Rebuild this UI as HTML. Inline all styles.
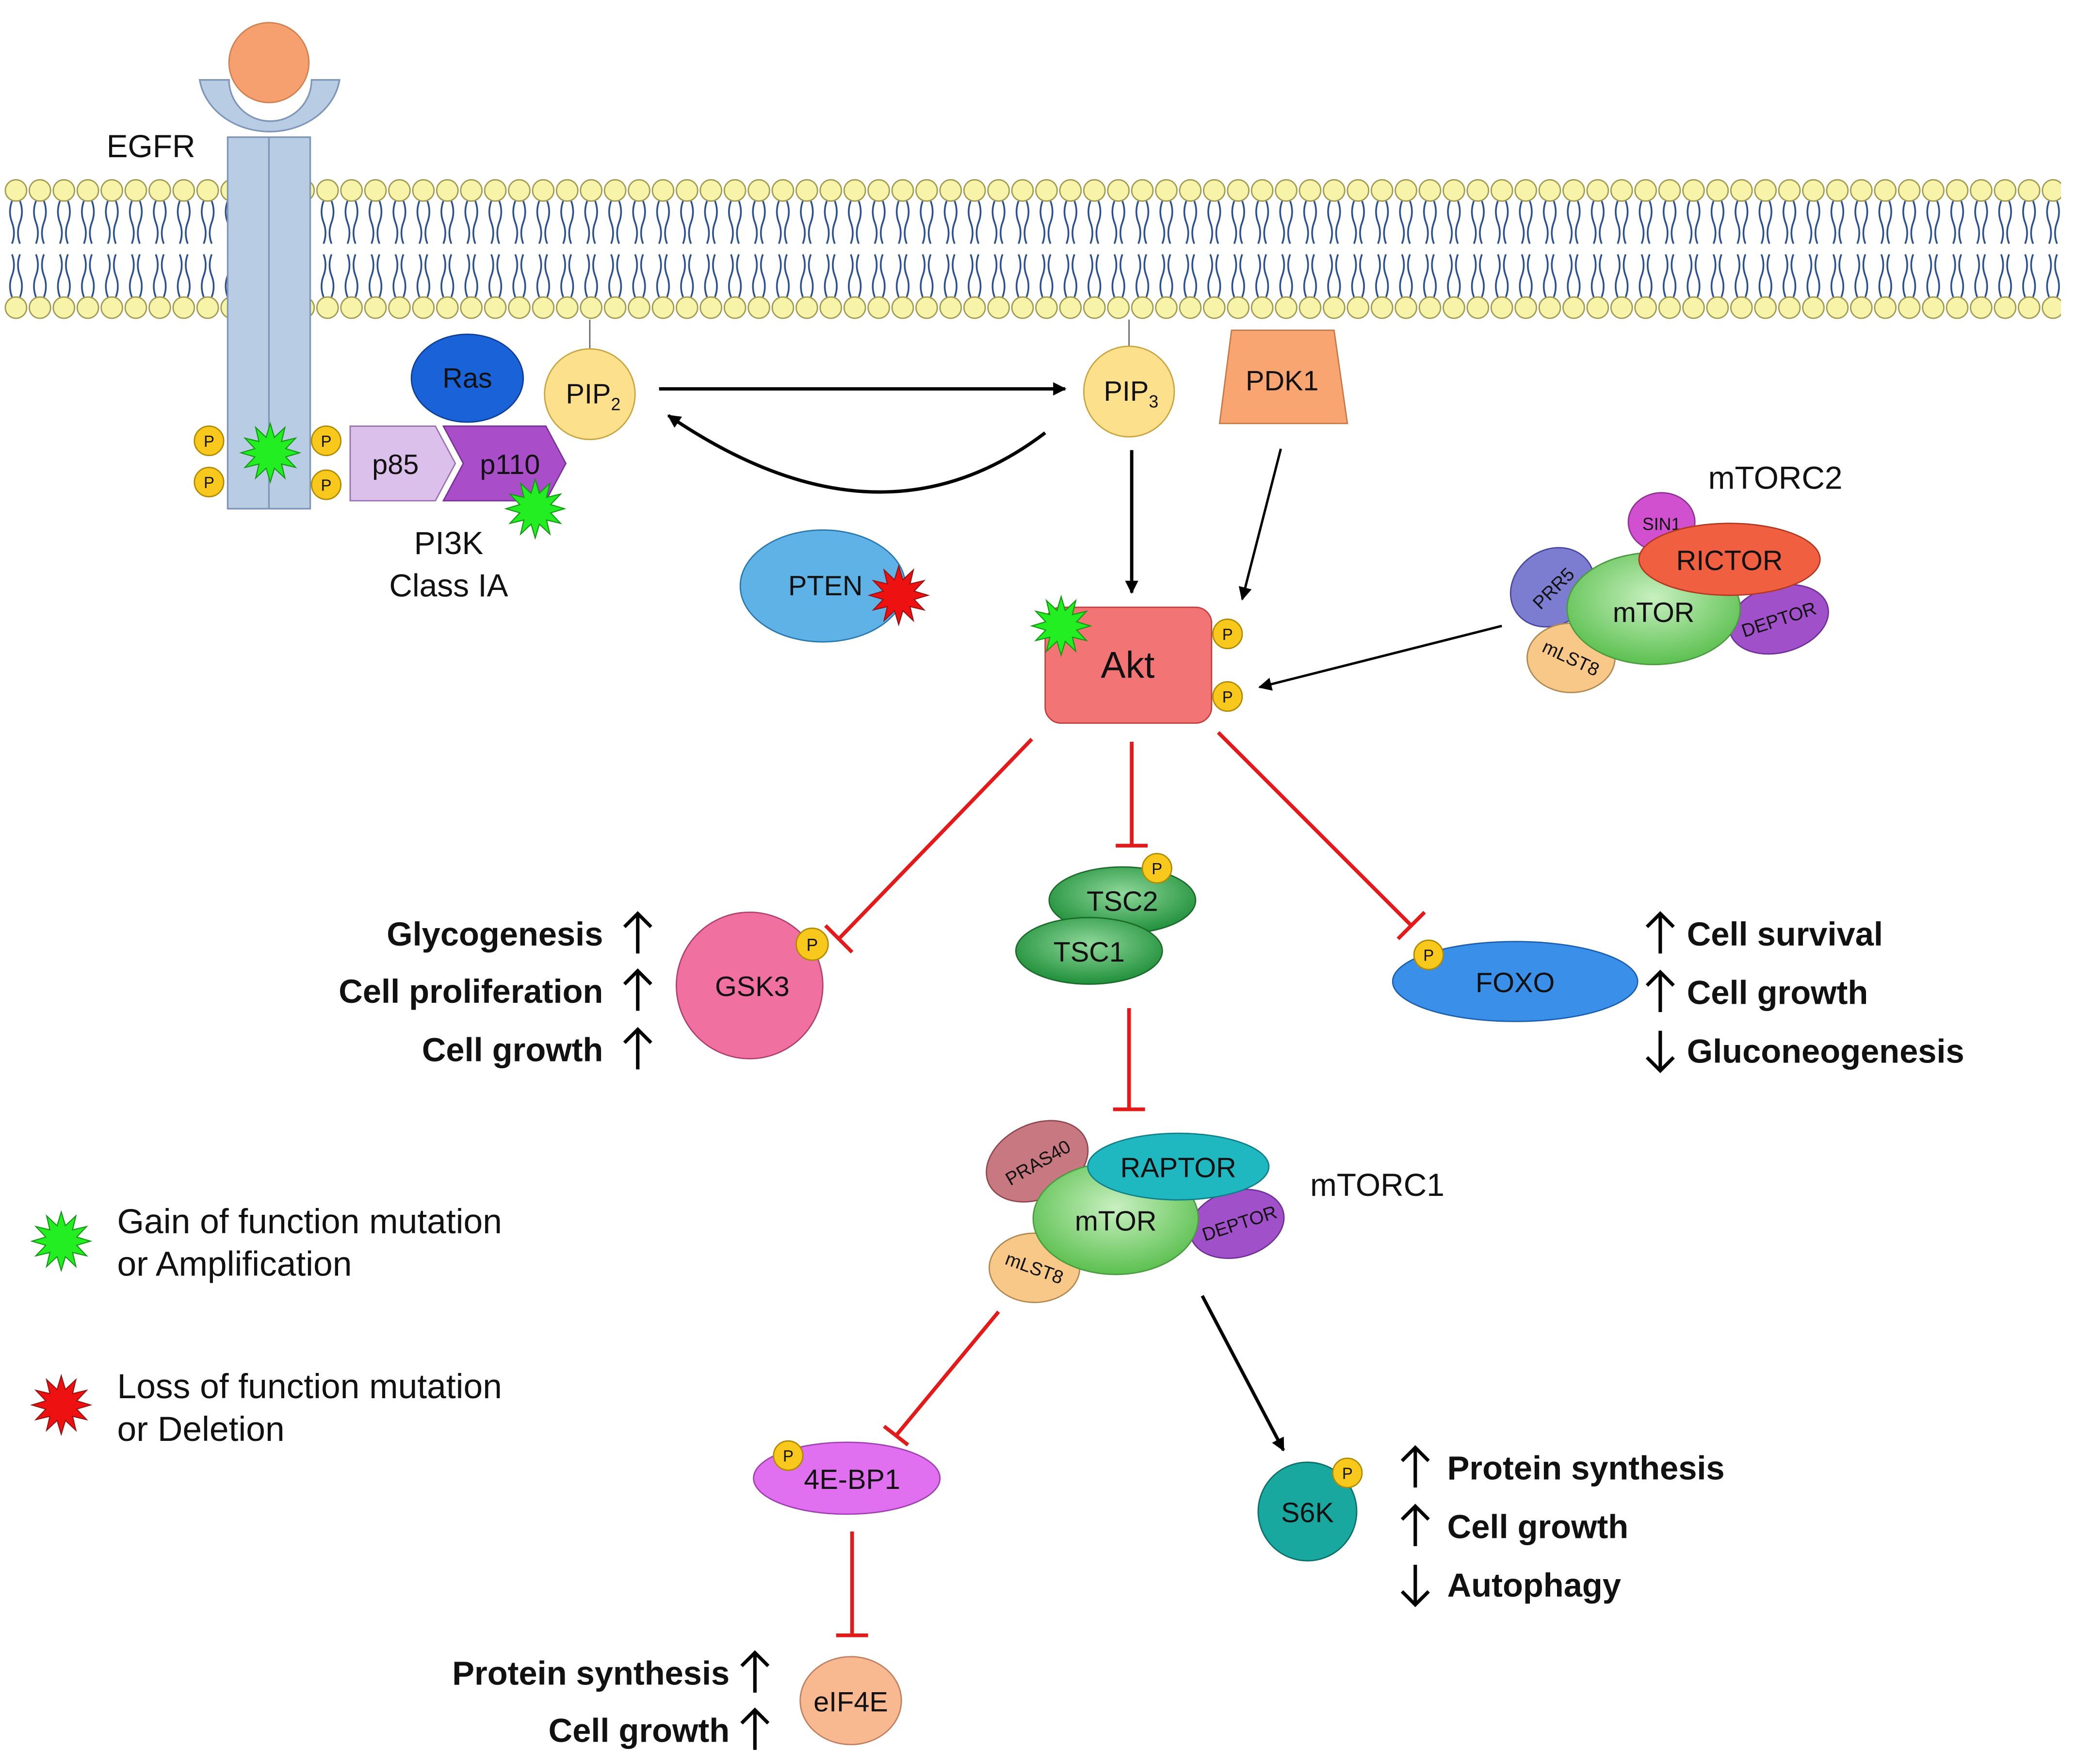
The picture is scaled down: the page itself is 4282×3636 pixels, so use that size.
<!DOCTYPE html>
<html><head><meta charset="utf-8"><style>
html,body{margin:0;padding:0;background:#fff}
svg{display:block}
text{font-family:"Liberation Sans",Arial,sans-serif;fill:#111}
.b{font-weight:bold;font-size:25px}
.l{font-size:21px}
</style></head><body>
<svg width="4282" height="3636" viewBox="0 0 1560 1324.6" preserveAspectRatio="none" xmlns="http://www.w3.org/2000/svg">
<defs>
<pattern id="mem" x="3" y="133" width="18" height="108" patternUnits="userSpaceOnUse">
<path d="M6,18 q-3,8 0,16 q3,8 0,16 M12,18 q3,8 0,16 q-3,8 0,16 M6,90 q-3,-8 0,-16 q3,-8 0,-16 M12,90 q3,-8 0,-16 q-3,-8 0,-16" stroke="#2a4f8f" stroke-width="1.3" fill="none"/>
<circle cx="9" cy="10" r="8" fill="#f7f3a8" stroke="#a09a50" stroke-width="1"/>
<circle cx="9" cy="98" r="8" fill="#f7f3a8" stroke="#a09a50" stroke-width="1"/>
</pattern>
<polygon id="star" points="22,0 11.59,3.11 19.05,11 8.49,8.49 11,19.05 3.11,11.59 0,22 -3.11,11.59 -11,19.05 -8.49,8.49 -19.05,11 -11.59,3.11 -22,0 -11.59,-3.11 -19.05,-11 -8.49,-8.49 -11,-19.05 -3.11,-11.59 0,-22 3.11,-11.59 11,-19.05 8.49,-8.49 19.05,-11 11.59,-3.11"/>
<marker id="ar" markerWidth="10" markerHeight="10" refX="9" refY="5" orient="auto" markerUnits="userSpaceOnUse" viewBox="0 0 10 10"><path d="M0,0 L10,5 L0,10 z" fill="#000"/></marker>
<radialGradient id="gg" cx="50%" cy="40%" r="60%"><stop offset="0" stop-color="#c8f0c0"/><stop offset="1" stop-color="#5cc050"/></radialGradient>
<radialGradient id="dg" cx="50%" cy="40%" r="60%"><stop offset="0" stop-color="#8fd89a"/><stop offset="1" stop-color="#1f8f3a"/></radialGradient>
</defs>
<rect x="0" y="0" width="1560" height="1325" fill="#fff"/>
<rect x="3" y="133" width="1545" height="108" fill="url(#mem)"/>
<!-- EGFR -->
<rect x="171" y="103" width="62" height="279" fill="#b8cce4" stroke="#7f96b8" stroke-width="1.2"/>
<line x1="202" y1="103" x2="202" y2="382" stroke="#7f96b8" stroke-width="1.2"/>
<path d="M150,60 L172,60 A31,31 0 0 0 234,60 L255,60 A53,45 0 0 1 150,60 z" fill="#b8cce4" stroke="#7f96b8" stroke-width="1.2"/>
<circle cx="202" cy="47" r="30" fill="#f6a070" stroke="#d08050"/>
<text x="80" y="118" font-size="24">EGFR</text>
<use href="#star" x="203" y="340" fill="#22ee22" stroke="#119911" stroke-width="0.8"/>
<g font-size="12">
<circle cx="157" cy="331" r="11" fill="#f8c81c" stroke="#b08a00"/><text x="157" y="335.5" text-anchor="middle" font-size="12">P</text>
<circle cx="157" cy="362" r="11" fill="#f8c81c" stroke="#b08a00"/><text x="157" y="366.5" text-anchor="middle" font-size="12">P</text>
<circle cx="245" cy="331" r="11" fill="#f8c81c" stroke="#b08a00"/><text x="245" y="335.5" text-anchor="middle" font-size="12">P</text>
<circle cx="245" cy="364" r="11" fill="#f8c81c" stroke="#b08a00"/><text x="245" y="368.5" text-anchor="middle" font-size="12">P</text>
</g>
<!-- PI3K -->
<polygon points="263,320 327,320 342,348 327,376 263,376" fill="#dcc0ec" stroke="#9a70b0"/>
<polygon points="333,320 410,320 425,348 410,376 333,376 348,348" fill="#a94ec8" stroke="#7a3098"/>
<text x="297" y="356" text-anchor="middle" class="l">p85</text>
<text x="383" y="356" text-anchor="middle" class="l">p110</text>
<use href="#star" x="402" y="382" fill="#22ee22" stroke="#119911" stroke-width="0.8"/>
<text x="337" y="416" text-anchor="middle" font-size="24">PI3K</text>
<text x="337" y="448" text-anchor="middle" font-size="24">Class IA</text>
<ellipse cx="351" cy="284" rx="42" ry="33" fill="#1a62d8" stroke="#0d3f99"/>
<text x="351" y="291" text-anchor="middle" class="l">Ras</text>
<!-- PIP -->
<line x1="443" y1="240" x2="443" y2="262" stroke="#666"/>
<circle cx="443" cy="296" r="34" fill="#fde08c" stroke="#c9a440"/>
<text x="425" y="303" class="l">PIP<tspan font-size="13" dy="5">2</tspan></text>
<line x1="848" y1="240" x2="848" y2="260" stroke="#666"/>
<circle cx="848" cy="294" r="34" fill="#fde08c" stroke="#c9a440"/>
<text x="829" y="301" class="l">PIP<tspan font-size="13" dy="5">3</tspan></text>
<polygon points="925,248 1002,248 1012,318 916,318" fill="#f8a572" stroke="#c87848"/>
<text x="963" y="293" text-anchor="middle" class="l">PDK1</text>
<line x1="495" y1="292" x2="800" y2="292" stroke="#000" stroke-width="2.5" marker-end="url(#ar)"/>
<path d="M785,325 Q660,420 502,312" stroke="#000" stroke-width="2.5" fill="none" marker-end="url(#ar)"/>
<ellipse cx="618" cy="440" rx="62" ry="42" fill="#5fb2e6" stroke="#2a78b0"/>
<text x="620" y="447" text-anchor="middle" class="l">PTEN</text>
<use href="#star" x="675" y="447" fill="#ee1111" stroke="#991111" stroke-width="0.8"/>
<line x1="850" y1="338" x2="850" y2="445" stroke="#000" stroke-width="2.5" marker-end="url(#ar)"/>
<line x1="962" y1="337" x2="933" y2="450" stroke="#000" stroke-width="1.8" marker-end="url(#ar)"/>
<!-- Akt -->
<rect x="785" y="456" width="125" height="87" rx="12" fill="#f27474" stroke="#c04040"/>
<text x="847" y="509" text-anchor="middle" font-size="28">Akt</text>
<use href="#star" x="797" y="470" fill="#22ee22" stroke="#119911" stroke-width="0.8"/>
<circle cx="922" cy="476" r="11" fill="#f8c81c" stroke="#b08a00"/><text x="922" y="480.5" text-anchor="middle" font-size="12">P</text>
<circle cx="922" cy="523" r="11" fill="#f8c81c" stroke="#b08a00"/><text x="922" y="527.5" text-anchor="middle" font-size="12">P</text>
<!-- mTORC2 -->
<ellipse cx="1166" cy="441" rx="33" ry="28" fill="#7c7cd0" stroke="#4848a0" transform="rotate(-35 1166 441)"/>
<text x="1166" y="447" text-anchor="middle" font-size="14" transform="rotate(-45 1166 441)">PRR5</text>
<ellipse cx="1248" cy="392" rx="25" ry="22" fill="#d050d0" stroke="#903090"/>
<text x="1248" y="398" text-anchor="middle" font-size="13">SIN1</text>
<ellipse cx="1180" cy="494" rx="33" ry="26" fill="#f8c888" stroke="#b08850"/>
<text x="1180" y="499" text-anchor="middle" font-size="14" transform="rotate(25 1180 494)">mLST8</text>
<ellipse cx="1336" cy="465" rx="38" ry="25" fill="#a050c8" stroke="#703098" transform="rotate(-15 1336 465)"/>
<text x="1336" y="470" text-anchor="middle" font-size="14" transform="rotate(-18 1336 465)">DEPTOR</text>
<ellipse cx="1242" cy="457" rx="65" ry="42" fill="url(#gg)" stroke="#4a9a40"/>
<text x="1242" y="467" text-anchor="middle" class="l">mTOR</text>
<ellipse cx="1299" cy="420" rx="68" ry="27" fill="#f06040" stroke="#b03820"/>
<text x="1299" y="428" text-anchor="middle" class="l">RICTOR</text>
<text x="1283" y="367" font-size="24">mTORC2</text>
<line x1="1128" y1="470" x2="946" y2="516" stroke="#000" stroke-width="1.8" marker-end="url(#ar)"/>
<!-- inhibitions -->
<g stroke="#e41a1a" stroke-width="2.8">
<line x1="775" y1="555" x2="630" y2="705"/><line x1="620" y1="695" x2="640" y2="715"/>
<line x1="850" y1="557" x2="850" y2="635"/><line x1="838" y1="635" x2="862" y2="635"/>
<line x1="915" y1="550" x2="1060" y2="695"/><line x1="1050" y1="705" x2="1070" y2="685"/>
<line x1="848" y1="757" x2="848" y2="833"/><line x1="836" y1="833" x2="860" y2="833"/>
<line x1="750" y1="985" x2="673" y2="1078"/><line x1="664" y1="1071" x2="682" y2="1085"/>
<line x1="640" y1="1150" x2="640" y2="1228"/><line x1="628" y1="1228" x2="652" y2="1228"/>
</g>
<!-- GSK3 -->
<circle cx="563" cy="740" r="55" fill="#f070a0" stroke="#b04070"/>
<text x="565" y="748" text-anchor="middle" class="l">GSK3</text>
<circle cx="610" cy="709" r="12" fill="#f8c81c" stroke="#b08a00"/><text x="610" y="714" text-anchor="middle" font-size="13">P</text>
<!-- TSC -->
<ellipse cx="843" cy="676" rx="55" ry="25" fill="url(#dg)" stroke="#1a6a2a"/>
<text x="843" y="684" text-anchor="middle" class="l">TSC2</text>
<ellipse cx="818" cy="714" rx="55" ry="25" fill="url(#dg)" stroke="#1a6a2a"/>
<text x="818" y="722" text-anchor="middle" class="l">TSC1</text>
<circle cx="869" cy="652" r="11" fill="#f8c81c" stroke="#b08a00"/><text x="869" y="656.5" text-anchor="middle" font-size="12">P</text>
<!-- FOXO -->
<ellipse cx="1138" cy="737" rx="92" ry="30" fill="#3a90e8" stroke="#1a5fb0"/>
<text x="1138" y="745" text-anchor="middle" class="l">FOXO</text>
<circle cx="1073" cy="717" r="11" fill="#f8c81c" stroke="#b08a00"/><text x="1073" y="721.5" text-anchor="middle" font-size="12">P</text>
<!-- side texts -->
<g class="b">
<text x="453" y="710" text-anchor="end" class="b">Glycogenesis</text>
<text x="453" y="753" text-anchor="end" class="b">Cell proliferation</text>
<text x="453" y="797" text-anchor="end" class="b">Cell growth</text>
<text x="1267" y="710" class="b">Cell survival</text>
<text x="1267" y="754" class="b">Cell growth</text>
<text x="1267" y="798" class="b">Gluconeogenesis</text>
<text x="1087" y="1111" class="b">Protein synthesis</text>
<text x="1087" y="1155" class="b">Cell growth</text>
<text x="1087" y="1199" class="b">Autophagy</text>
<text x="548" y="1265" text-anchor="end" class="b">Protein synthesis</text>
<text x="548" y="1308" text-anchor="end" class="b">Cell growth</text>
</g>
<g stroke="#000" stroke-width="2.6" fill="none">
<path d="M479,716 V686 M469,696 L479,686 L489,696"/>
<path d="M479,759 V729 M469,739 L479,729 L489,739"/>
<path d="M479,803 V773 M469,783 L479,773 L489,783"/>
<path d="M1247,716 V686 M1237,696 L1247,686 L1257,696"/>
<path d="M1247,760 V730 M1237,740 L1247,730 L1257,740"/>
<path d="M1247,774 V804 M1237,794 L1247,804 L1257,794"/>
<path d="M1063,1117 V1087 M1053,1097 L1063,1087 L1073,1097"/>
<path d="M1063,1161 V1131 M1053,1141 L1063,1131 L1073,1141"/>
<path d="M1063,1175 V1205 M1053,1195 L1063,1205 L1073,1195"/>
<path d="M567,1271 V1241 M557,1251 L567,1241 L577,1251"/>
<path d="M567,1314 V1284 M557,1294 L567,1284 L577,1294"/>
</g>
<!-- mTORC1 -->
<ellipse cx="779" cy="872" rx="40" ry="28" fill="#c87880" stroke="#904850" transform="rotate(-25 779 872)"/>
<text x="779" y="878" text-anchor="middle" font-size="14" transform="rotate(-30 779 872)">PRAS40</text>
<ellipse cx="929" cy="919" rx="36" ry="25" fill="#a050c8" stroke="#703098" transform="rotate(-15 929 919)"/>
<text x="931" y="924" text-anchor="middle" font-size="14" transform="rotate(-18 929 919)">DEPTOR</text>
<ellipse cx="777" cy="952" rx="34" ry="26" fill="#f8c888" stroke="#b08850"/>
<text x="777" y="957" text-anchor="middle" font-size="14" transform="rotate(20 777 952)">mLST8</text>
<ellipse cx="838" cy="915" rx="62" ry="42" fill="url(#gg)" stroke="#4a9a40"/>
<text x="838" y="924" text-anchor="middle" class="l">mTOR</text>
<ellipse cx="885" cy="876" rx="68" ry="25" fill="#20b8c0" stroke="#108088"/>
<text x="885" y="884" text-anchor="middle" class="l">RAPTOR</text>
<text x="984" y="898" font-size="24">mTORC1</text>
<line x1="903" y1="973" x2="964" y2="1089" stroke="#000" stroke-width="2.5" marker-end="url(#ar)"/>
<!-- 4E-BP1 -->
<ellipse cx="636" cy="1110" rx="70" ry="27" fill="#e070f0" stroke="#a040b0"/>
<text x="640" y="1118" text-anchor="middle" class="l">4E-BP1</text>
<circle cx="592" cy="1093" r="11" fill="#f8c81c" stroke="#b08a00"/><text x="592" y="1097.5" text-anchor="middle" font-size="12">P</text>
<circle cx="982" cy="1135" r="37" fill="#18a8a0" stroke="#0a7068"/>
<text x="982" y="1143" text-anchor="middle" class="l">S6K</text>
<circle cx="1012" cy="1106" r="11" fill="#f8c81c" stroke="#b08a00"/><text x="1012" y="1110.5" text-anchor="middle" font-size="12">P</text>
<ellipse cx="639" cy="1277" rx="38" ry="33" fill="#f8b890" stroke="#c08060"/>
<text x="639" y="1285" text-anchor="middle" class="l">eIF4E</text>
<!-- legend -->
<use href="#star" x="46" y="932" fill="#22ee22" stroke="#119911" stroke-width="0.8"/>
<text x="88" y="926" font-size="26">Gain of function mutation</text>
<text x="88" y="958" font-size="26">or Amplification</text>
<use href="#star" x="46" y="1055" fill="#ee1111" stroke="#991111" stroke-width="0.8"/>
<text x="88" y="1050" font-size="26">Loss of function mutation</text>
<text x="88" y="1082" font-size="26">or Deletion</text>
</svg>
</body></html>
